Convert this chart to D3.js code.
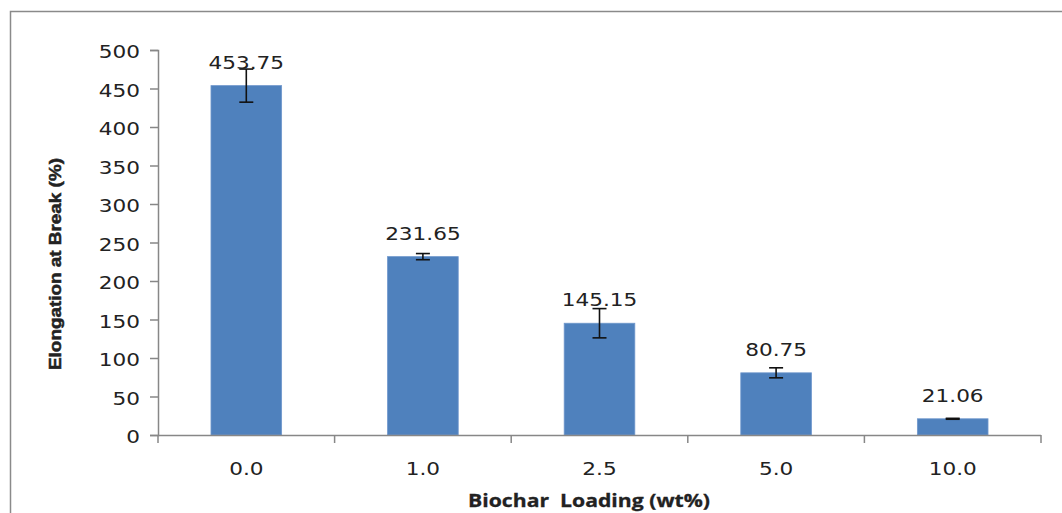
<!DOCTYPE html>
<html>
<head>
<meta charset="utf-8">
<script src="https://cdn.jsdelivr.net/npm/d3@7"></script>
<style>
  html, body { margin: 0; padding: 0; background: #fff; }
  svg { display: block; }
</style>
</head>
<body>
<script>
const categories = ["0.0", "1.0", "2.5", "5.0", "10.0"];
const values = [453.75, 231.65, 145.15, 80.75, 21.06];
const errors = [21.5, 4, 19, 6.5, 0.6];
const valueLabels = ["453.75", "231.65", "145.15", "80.75", "21.06"];
const yTicks = [0, 50, 100, 150, 200, 250, 300, 350, 400, 450, 500];
const xTitle = "Biochar\u00A0 Loading (wt%)";
const yTitle = "Elongation at Break (%)";

(function () {
const W = 1062, H = 513;
const mLeft = 158, mRight = 1041, mTop = 50, mBottom = 435;
const textScale = 1.2;
const textColor = "#222";

const svg = d3.select("body").append("svg").attr("width", W).attr("height", H);

// outer border (top and left visible)
svg.append("path")
  .attr("d", `M10.5,${H} L10.5,11.5 L${W},11.5`)
  .attr("fill", "none").attr("stroke", "#8a8a8a").attr("stroke-width", 1.5);

const x = d3.scaleBand().domain(categories).range([mLeft, mRight]).paddingInner(0.6).paddingOuter(0.3);
const y = d3.scaleLinear().domain([0, 500]).range([mBottom, mTop]);
const step = x.step();

// bars
svg.append("g").selectAll("rect").data(values).join("rect")
  .attr("x", (d, i) => x(categories[i]))
  .attr("y", d => y(d))
  .attr("width", x.bandwidth())
  .attr("height", d => y(0) - y(d))
  .attr("fill", "#4F81BD")
  .attr("stroke", "#6f97cc").attr("stroke-width", 0.8);

// y axis
const yAxis = svg.append("g").attr("transform", `translate(${mLeft},0)`)
  .call(d3.axisLeft(y).tickValues(yTicks).tickSize(8).tickPadding(10).tickFormat(d3.format("d")));
yAxis.select(".domain").attr("stroke", "#878787").attr("stroke-width", 1.5);
yAxis.selectAll(".tick line").attr("stroke", "#878787").attr("stroke-width", 1.5);
yAxis.selectAll(".tick text").each(function () {
  const t = d3.select(this);
  const xx = +t.attr("x");
  t.attr("x", null)
   .attr("transform", `translate(${xx},2) scale(${textScale},1)`)
   .attr("font-family", "DejaVu Sans").attr("font-size", 18).attr("fill", textColor);
});

// x axis
const xg = svg.append("g");
xg.append("line").attr("x1", mLeft).attr("x2", mRight).attr("y1", mBottom + 0.5).attr("y2", mBottom + 0.5)
  .attr("stroke", "#878787").attr("stroke-width", 1.5);
const boundaries = d3.range(categories.length + 1).map(i => mLeft + i * step);
xg.selectAll("line.tk").data(boundaries).join("line").attr("class", "tk")
  .attr("x1", d => d).attr("x2", d => d).attr("y1", mBottom).attr("y2", mBottom + 8)
  .attr("stroke", "#878787").attr("stroke-width", 1.5);
xg.selectAll("text").data(categories).join("text")
  .attr("transform", d => `translate(${x(d) + x.bandwidth() / 2},${mBottom + 40}) scale(${textScale},1)`)
  .attr("text-anchor", "middle")
  .attr("font-family", "DejaVu Sans").attr("font-size", 18).attr("fill", textColor)
  .text(d => d);

// error bars
const eg = svg.append("g").attr("stroke", "#111").attr("stroke-width", 1.6);
values.forEach((v, i) => {
  const cx = x(categories[i]) + x.bandwidth() / 2;
  const y1 = y(v + errors[i]), y2 = y(v - errors[i]);
  eg.append("line").attr("x1", cx).attr("x2", cx).attr("y1", y1).attr("y2", y2);
  eg.append("line").attr("x1", cx - 7).attr("x2", cx + 7).attr("y1", y1).attr("y2", y1);
  eg.append("line").attr("x1", cx - 7).attr("x2", cx + 7).attr("y1", y2).attr("y2", y2);
});

// value labels
svg.append("g").selectAll("text").data(values).join("text")
  .attr("transform", (d, i) => `translate(${x(categories[i]) + x.bandwidth() / 2},${y(d) - 17}) scale(${textScale},1)`)
  .attr("text-anchor", "middle")
  .attr("font-family", "DejaVu Sans").attr("font-size", 18).attr("fill", textColor)
  .text((d, i) => valueLabels[i]);

// axis titles
svg.append("text")
  .attr("x", 589).attr("y", 507)
  .attr("text-anchor", "middle")
  .attr("font-family", "Open Sans").attr("font-weight", "bold").attr("font-size", 18)
  .attr("fill", textColor).attr("stroke", textColor).attr("stroke-width", 0.3)
  .attr("textLength", 242).attr("lengthAdjust", "spacingAndGlyphs")
  .text(xTitle);

svg.append("text")
  .attr("transform", `translate(61,264) rotate(-90)`)
  .attr("text-anchor", "middle")
  .attr("font-family", "Liberation Sans").attr("font-weight", "bold").attr("font-size", 17)
  .attr("fill", textColor).attr("stroke", textColor).attr("stroke-width", 0.5)
  .attr("textLength", 212).attr("lengthAdjust", "spacingAndGlyphs")
  .text(yTitle);
})();
</script>
</body>
</html>
